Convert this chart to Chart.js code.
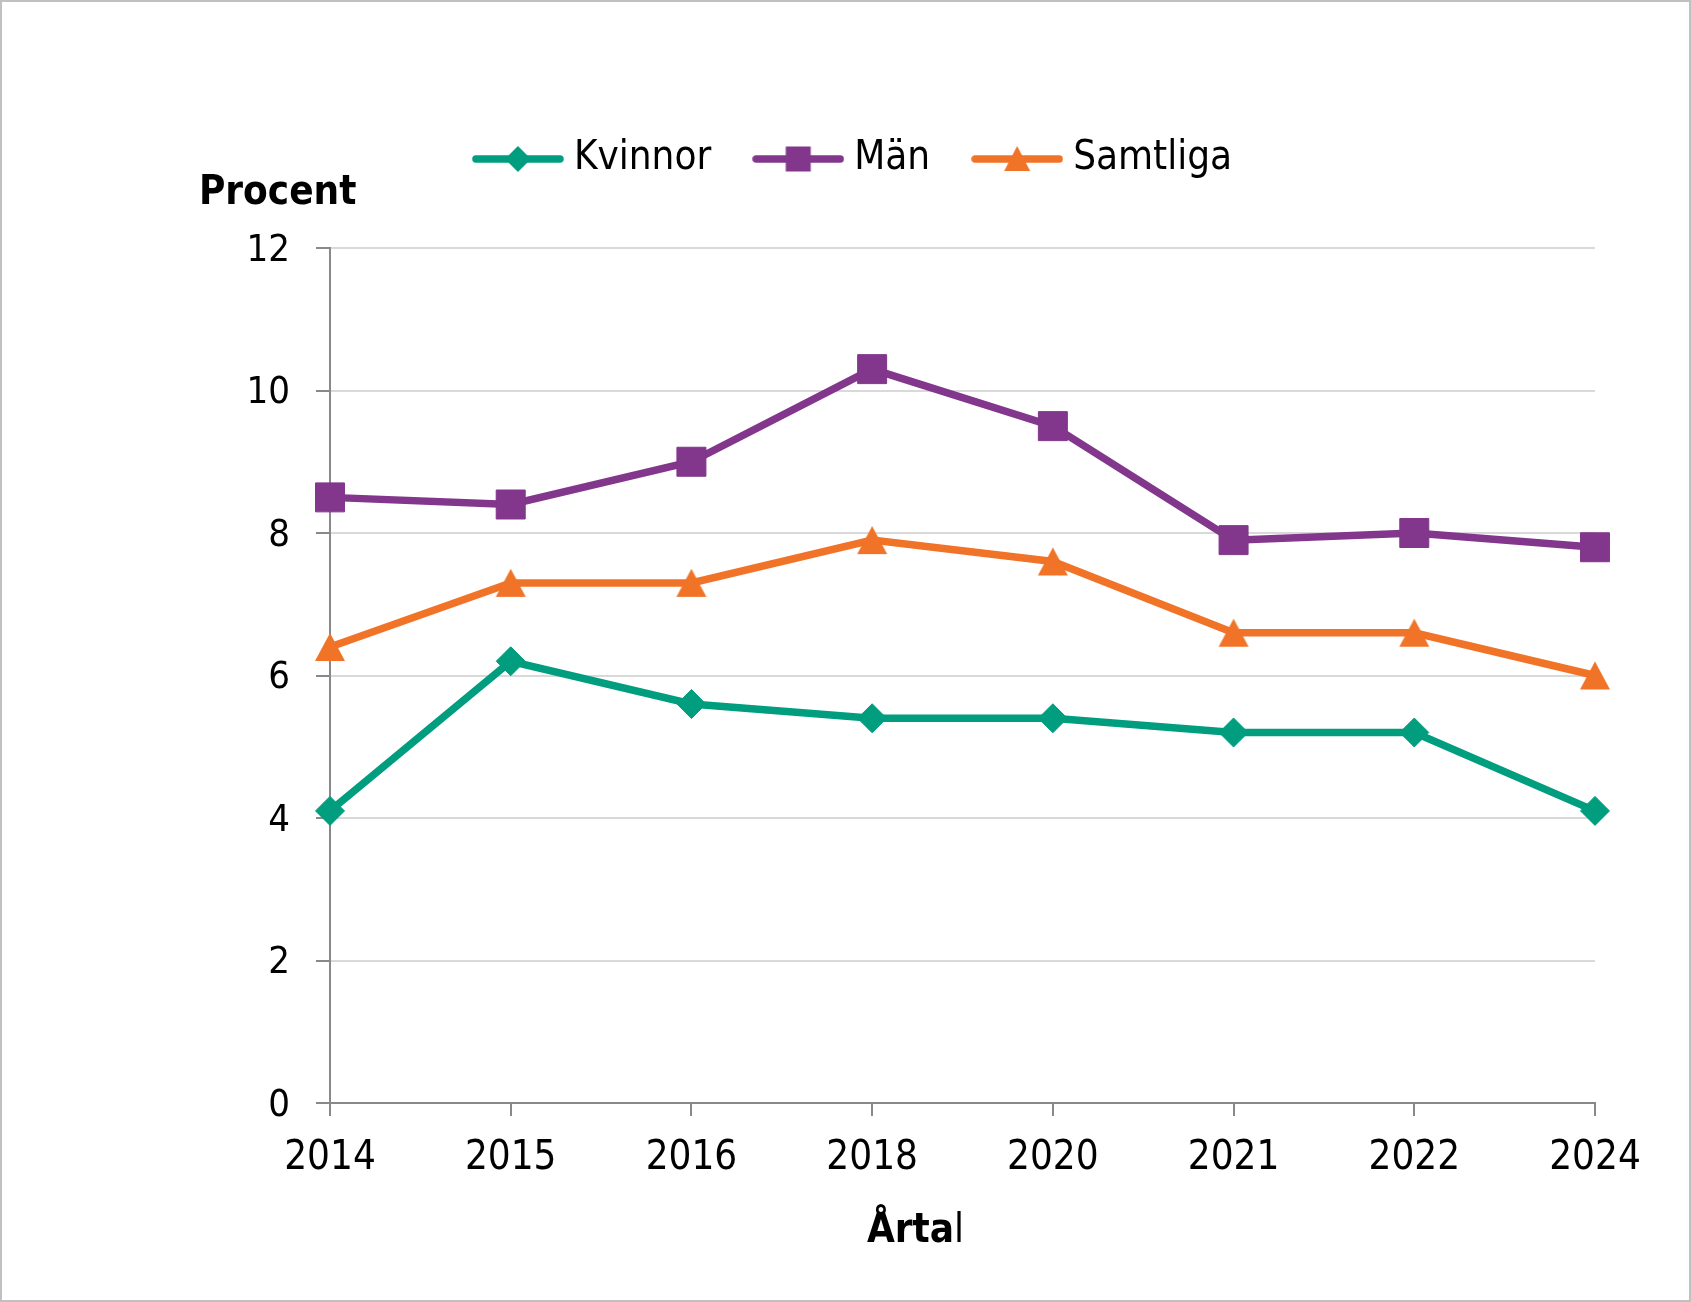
<!DOCTYPE html>
<html>
<head>
<meta charset="utf-8">
<script src="https://cdn.jsdelivr.net/npm/chart.js@4"></script>
<style>
  body { margin: 0; background: #fff; }
  .frame { width: 1691px; height: 1302px; border: 2px solid #c0c0c0; box-sizing: border-box; }
</style>
</head>
<body>
<div class="frame">
  <canvas id="myChart" width="1687" height="1298"></canvas>
</div>
<script>
const years = ["2014", "2015", "2016", "2018", "2020", "2021", "2022", "2024"];
const kvinnor = [4.1, 6.2, 5.6, 5.4, 5.4, 5.2, 5.2, 4.1];
const man = [8.5, 8.4, 9.0, 10.3, 9.5, 7.9, 8.0, 7.8];
const samtliga = [6.4, 7.3, 7.3, 7.9, 7.6, 6.6, 6.6, 6.0];
const seriesNames = ["Kvinnor", "Män", "Samtliga"];
const yMin = 0, yMax = 12, yStep = 2;
const yTitle = "Procent";
const xTitleBold = "Årta";
const xTitleRest = "l";

const GREEN = "#009e7e";
const PURPLE = "#82378c";
const ORANGE = "#f07328";
const FONT = "'DejaVu Sans Condensed', 'DejaVu Sans', sans-serif";

Chart.defaults.font.family = FONT;
Chart.defaults.color = "#000";

// legend icon: line with the marker in the middle
function legendIcon(color, shape) {
  const c = document.createElement("canvas");
  c.width = 92; c.height = 30;
  const g = c.getContext("2d");
  g.strokeStyle = color; g.fillStyle = color;
  g.lineWidth = 7.5; g.lineCap = "round";
  g.beginPath(); g.moveTo(4, 15); g.lineTo(88, 15); g.stroke();
  g.beginPath();
  if (shape === "diamond") {
    g.moveTo(46, 2); g.lineTo(59, 15); g.lineTo(46, 28); g.lineTo(33, 15);
  } else if (shape === "square") {
    g.rect(33.5, 2.5, 25, 25);
  } else {
    g.moveTo(46, 2); g.lineTo(59, 27); g.lineTo(33, 27);
  }
  g.closePath(); g.fill();
  return c;
}
const legendIcons = [
  legendIcon(GREEN, "diamond"),
  legendIcon(PURPLE, "square"),
  legendIcon(ORANGE, "triangle")
];

// triangle marker centred on the point (built-in one sits high)
function triangleMarker(color) {
  const c = document.createElement("canvas");
  c.width = 32; c.height = 30;
  const g = c.getContext("2d");
  g.fillStyle = color;
  g.beginPath(); g.moveTo(16, 1); g.lineTo(31, 29); g.lineTo(1, 29); g.closePath(); g.fill();
  return c;
}

const axisTexts = {
  id: "axisTexts",
  afterDraw(chart) {
    const { ctx, chartArea } = chart;
    ctx.save();
    ctx.fillStyle = "#000";
    ctx.textAlign = "left";
    ctx.textBaseline = "alphabetic";
    ctx.font = "bold 40px " + FONT;
    ctx.fillText(yTitle, chartArea.left - 131, chartArea.top - 44);
    const x0 = chartArea.left + 537, y0 = chartArea.bottom + 139;
    ctx.fillText(xTitleBold, x0, y0);
    const w = ctx.measureText(xTitleBold).width;
    ctx.font = "40px " + FONT;
    ctx.fillText(xTitleRest, x0 + w, y0);
    ctx.restore();
  }
};

const ctx = document.getElementById("myChart").getContext("2d");
const myChart = new Chart(ctx, {
  type: "line",
  data: {
    labels: years,
    datasets: [{
      label: seriesNames[0],
      data: kvinnor,
      borderColor: GREEN,
      backgroundColor: GREEN,
      pointStyle: "rectRot",
      pointRadius: 14.5,
    }, {
      label: seriesNames[1],
      data: man,
      borderColor: PURPLE,
      backgroundColor: PURPLE,
      pointStyle: "rect",
      pointRadius: 20.5,
    }, {
      label: seriesNames[2],
      data: samtliga,
      borderColor: ORANGE,
      backgroundColor: ORANGE,
      pointStyle: triangleMarker(ORANGE),
      pointRadius: 16,
    }]
  },
  options: {
    responsive: false,
    animation: false,
    events: [],
    elements: {
      line: { borderWidth: 7.5, tension: 0, fill: false },
      point: { borderWidth: 1 }
    },
    layout: { padding: { top: 86, left: 117, right: 94, bottom: 0 } },
    plugins: {
      tooltip: { enabled: false },
      legend: {
        position: "top",
        labels: {
          usePointStyle: true,
          pointStyleWidth: 72,
          padding: 51,
          color: "#000",
          font: { size: 40 },
          generateLabels(chart) {
            const items = Chart.defaults.plugins.legend.labels.generateLabels(chart);
            items.forEach((it, i) => { it.pointStyle = legendIcons[i]; it.rotation = 0; });
            return items;
          }
        }
      },
      // empty title used as a gap between legend and plot
      title: {
        display: true,
        text: "",
        weight: 500,
        font: { size: 10, lineHeight: 1 },
        padding: { top: 0, bottom: 49 }
      }
    },
    scales: {
      x: {
        offset: false,
        afterFit(scale) { scale.height = 197; },
        grid: {
          drawOnChartArea: false,
          drawTicks: true,
          tickLength: 13,
          tickColor: "#898989",
          lineWidth: 2
        },
        border: { color: "#898989", width: 2 },
        ticks: { color: "#000", font: { size: 40 }, padding: 19, maxRotation: 0 }
      },
      y: {
        min: yMin,
        max: yMax,
        afterFit(scale) { scale.width = 211; },
        grid: {
          color: "#d9d9d9",
          lineWidth: 2,
          tickLength: 14,
          tickColor: "#898989"
        },
        border: { color: "#898989", width: 2 },
        ticks: { stepSize: yStep, color: "#000", font: { size: 38 }, padding: 26, labelOffset: 3 }
      }
    }
  },
  plugins: [axisTexts]
});
</script>
</body>
</html>
